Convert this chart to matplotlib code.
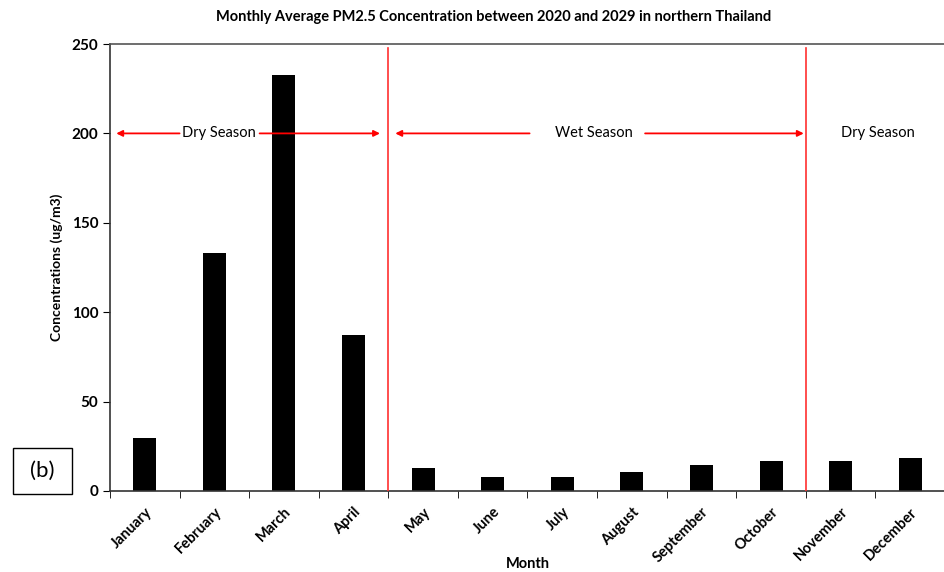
import numpy as np
import matplotlib.pyplot as plt
from matplotlib.patches import Rectangle

plt.rcParams['font.family'] = ['Lato', 'DejaVu Sans']

months = ['January', 'February', 'March', 'April', 'May', 'June', 'July',
          'August', 'September', 'October', 'November', 'December']
pm25 = [29.5, 133, 232.5, 87, 13, 8, 8, 10.5, 14.5, 16.5, 16.5, 18.5]
y_ticks = [0, 50, 100, 150, 200, 250]
season_bounds = [3.5, 9.5]

fig = plt.figure(figsize=(9.45, 5.72), dpi=100)
ax = fig.add_axes([110 / 945, 1 - 491 / 572, 835 / 945, 447 / 572])

x = np.arange(len(months))
ax.bar(x, pm25, width=0.33, color='black', zorder=2)

ax.set_xlim(-0.5, 11.5)
ax.set_ylim(0, 250)
ax.set_yticks(y_ticks)
ax.set_xticks(x)
ax.set_xticklabels(months, rotation=45, ha='right', rotation_mode='anchor',
                   fontsize=10.5, fontweight='bold')
ax.set_xticks(np.arange(-0.5, 12, 1), minor=True)
ax.tick_params(axis='x', which='major', length=0, pad=10)
ax.tick_params(axis='x', which='minor', length=5, direction='out')
ax.tick_params(axis='y', length=5, direction='out', labelsize=11)
for lab in ax.get_yticklabels():
    lab.set_fontweight('bold')

for s in ax.spines.values():
    s.set_color('#333333')
    s.set_linewidth(1.2)
ax.spines['top'].set_color('#555555')

ax.set_ylabel('Concentrations (ug/m3)', fontsize=10, fontweight='bold',
              labelpad=6)
ax.set_xlabel('Month', fontsize=10.5, fontweight='bold', labelpad=-6)
fig.text(494 / 945, 1 - 17 / 572,
         'Monthly Average PM2.5 Concentration between 2020 and 2029 '
         'in northern Thailand', ha='center', va='center',
         fontsize=10.5, fontweight='bold')

# season boundaries
for b in season_bounds:
    ax.plot([b, b], [0, 248], color='#ff3030', lw=1.2, zorder=3)

arrow = dict(arrowstyle='-|>', color='red', lw=1.3, mutation_scale=9,
             shrinkA=0, shrinkB=0)
y_arr = 200
ax.annotate('', xy=(-0.41, y_arr), xytext=(0.5, y_arr), arrowprops=arrow)
ax.annotate('', xy=(3.38, y_arr), xytext=(1.65, y_arr), arrowprops=arrow)
ax.annotate('', xy=(3.6, y_arr), xytext=(5.53, y_arr), arrowprops=arrow)
ax.annotate('', xy=(9.47, y_arr), xytext=(7.19, y_arr), arrowprops=arrow)
ax.text(1.07, y_arr, 'Dry Season', ha='center', va='center', fontsize=10.5)
ax.text(6.46, y_arr, 'Wet Season', ha='center', va='center', fontsize=10.5)
ax.text(10.54, y_arr, 'Dry Season', ha='center', va='center', fontsize=10.5)

# panel label
fig.patches.append(Rectangle((13 / 945, 1 - 494 / 572), 59 / 945, 46 / 572,
                             transform=fig.transFigure, fill=False,
                             edgecolor='black', lw=1))
fig.text(42.5 / 945, 1 - 471 / 572, '(b)', ha='center', va='center',
         fontsize=16)

fig.savefig('out.png', dpi=100)
